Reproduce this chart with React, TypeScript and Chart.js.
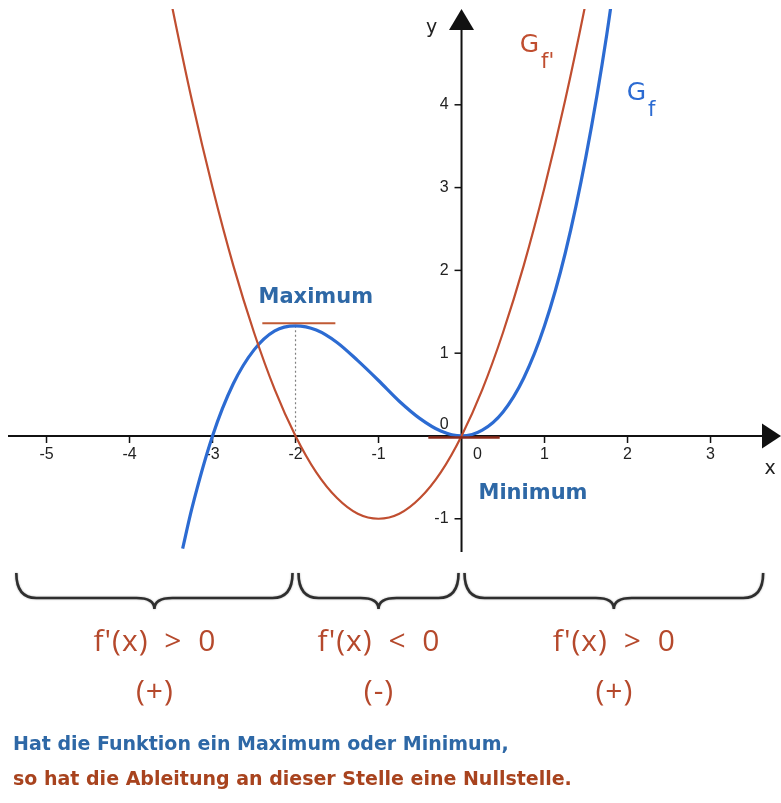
import { useEffect, useRef } from "react";
import { Chart, registerables } from "chart.js";

Chart.register(...registerables);

// Graph of f: sample points (x, f(x))
const fX = [-3.36, -3.25, -3, -2.75, -2.5, -2.25, -2, -1.75, -1.5, -1.25, -1, -0.75, -0.5, -0.25, 0, 0.25, 0.5, 0.75, 1, 1.25, 1.5, 1.75, 2];
const fY = [-1.36, -0.88, 0, 0.63, 1.04, 1.27, 1.33, 1.28, 1.13, 0.91, 0.67, 0.42, 0.21, 0.06, 0, 0.07, 0.29, 0.7, 1.33, 2.21, 3.38, 4.85, 6.67];

// Graph of f': sample points (x, f'(x))
const dX = [-3.6, -3.5, -3.25, -3, -2.75, -2.5, -2.25, -2, -1.75, -1.5, -1.25, -1, -0.75, -0.5, -0.25, 0, 0.25, 0.5, 0.75, 1, 1.25, 1.5, 1.75];
const dY = [5.76, 5.25, 4.06, 3, 2.06, 1.25, 0.56, 0, -0.44, -0.75, -0.94, -1, -0.94, -0.75, -0.44, 0, 0.56, 1.25, 2.06, 3, 4.06, 5.25, 6.56];

// Axis ticks
const xTicks = [-5, -4, -3, -2, -1, 0, 1, 2, 3];
const yTicks = [-1, 0, 1, 2, 3, 4];

// Extrema of f (zeros of f')
const extremaX = [-2, 0];
const extremaY = [1.33, 0];
const extremaNames = ["Maximum", "Minimum"];

// Curve names and where they sit (data coordinates of the "G")
const curveNames = ["f'", "f"];
const curveNameX = [0.7, 1.99];
const curveNameY = [4.64, 4.06];

// Sign intervals of f'
const intervalFrom = [-5.4, -2, 0];
const intervalTo = [-2, 0, 3.67];
const intervalSign = ["f'(x) > 0", "f'(x) < 0", "f'(x) > 0"];
const intervalSymbol = ["(+)", "(-)", "(+)"];

const captionLines = [
  "Hat die Funktion ein Maximum oder Minimum,",
  "so hat die Ableitung an dieser Stelle eine Nullstelle.",
];

const BLUE = "#2c6bd2";
const RED = "#c04e30";
const TEXT_BLUE = "#2e68a6";
const TEXT_RED = "#a8431e";
const AXIS = "#111111";

function arrowHead(ctx: CanvasRenderingContext2D, tipX: number, tipY: number, dx: number, dy: number, len: number, half: number) {
  const bx = tipX - dx * len;
  const by = tipY - dy * len;
  const px = -dy;
  const py = dx;
  ctx.beginPath();
  ctx.moveTo(tipX, tipY);
  ctx.lineTo(bx + px * half, by + py * half);
  ctx.lineTo(bx - px * half, by - py * half);
  ctx.closePath();
  ctx.fill();
}

const axesPlugin = {
  id: "centeredAxes",
  beforeDatasetsDraw(chart: any) {
    const { ctx, chartArea } = chart;
    const xs = chart.scales.x;
    const ys = chart.scales.y;
    const x0 = xs.getPixelForValue(0);
    const y0 = ys.getPixelForValue(0);
    ctx.save();
    ctx.strokeStyle = AXIS;
    ctx.fillStyle = AXIS;
    ctx.lineWidth = 2;

    // x axis with arrow
    ctx.beginPath();
    ctx.moveTo(chartArea.left, y0);
    ctx.lineTo(chartArea.right - 15, y0);
    ctx.stroke();
    arrowHead(ctx, chartArea.right, y0, 1, 0, 19, 12.5);

    // y axis with arrow
    const yBottom = ys.getPixelForValue(-1.4);
    ctx.beginPath();
    ctx.moveTo(x0, yBottom);
    ctx.lineTo(x0, chartArea.top + 18);
    ctx.stroke();
    arrowHead(ctx, x0, chartArea.top, 0, -1, 21, 12.5);

    // tick marks
    ctx.lineWidth = 1.5;
    xTicks.forEach((v) => {
      if (v === 0) return;
      const px = xs.getPixelForValue(v);
      ctx.beginPath();
      ctx.moveTo(px, y0);
      ctx.lineTo(px, y0 + 7);
      ctx.stroke();
    });
    yTicks.forEach((v) => {
      if (v === 0) return;
      const py = ys.getPixelForValue(v);
      ctx.beginPath();
      ctx.moveTo(x0 - 7, py);
      ctx.lineTo(x0, py);
      ctx.stroke();
    });

    // tick labels
    ctx.fillStyle = "#222";
    ctx.font = "16px 'Liberation Sans', Arial, sans-serif";
    ctx.textAlign = "center";
    ctx.textBaseline = "top";
    xTicks.forEach((v) => {
      const px = v === 0 ? x0 + 16 : xs.getPixelForValue(v);
      ctx.fillText(String(v), px, y0 + 11);
    });
    ctx.textAlign = "right";
    ctx.textBaseline = "middle";
    yTicks.forEach((v) => {
      const py = v === 0 ? y0 - 11 : ys.getPixelForValue(v);
      ctx.fillText(String(v), x0 - 13, py);
    });

    // axis names
    ctx.font = "19px 'DejaVu Sans', sans-serif";
    ctx.textAlign = "center";
    ctx.textBaseline = "alphabetic";
    ctx.fillText("x", chartArea.right - 11, y0 + 38);
    ctx.fillText("y", x0 - 30, chartArea.top + 24);

    // dotted drop line from the maximum to the x axis
    ctx.strokeStyle = "#808080";
    ctx.lineWidth = 1.2;
    ctx.setLineDash([2, 2.5]);
    ctx.beginPath();
    ctx.moveTo(xs.getPixelForValue(extremaX[0]), ys.getPixelForValue(extremaY[0]));
    ctx.lineTo(xs.getPixelForValue(extremaX[0]), y0);
    ctx.stroke();
    ctx.setLineDash([]);
    ctx.restore();
  },
  afterDatasetsDraw(chart: any) {
    const { ctx, chartArea } = chart;
    const xs = chart.scales.x;
    const ys = chart.scales.y;
    ctx.save();

    // horizontal tangents at the extrema
    const maxPx = xs.getPixelForValue(extremaX[0]);
    const maxPy = ys.getPixelForValue(extremaY[0]);
    ctx.strokeStyle = "#c05a34";
    ctx.lineWidth = 2;
    ctx.beginPath();
    ctx.moveTo(xs.getPixelForValue(extremaX[0] - 0.4), maxPy - 2.5);
    ctx.lineTo(xs.getPixelForValue(extremaX[0] + 0.48), maxPy - 2.5);
    ctx.stroke();

    const minPx = xs.getPixelForValue(extremaX[1]);
    const minPy = ys.getPixelForValue(extremaY[1]);
    ctx.strokeStyle = "#8a2a1a";
    ctx.lineWidth = 2.5;
    ctx.beginPath();
    ctx.moveTo(xs.getPixelForValue(extremaX[1] - 0.4), minPy + 1.5);
    ctx.lineTo(xs.getPixelForValue(extremaX[1] + 0.46), minPy + 1.5);
    ctx.stroke();

    // extremum names
    ctx.fillStyle = TEXT_BLUE;
    ctx.font = "bold 21px 'DejaVu Sans', Verdana, sans-serif";
    ctx.textAlign = "left";
    ctx.textBaseline = "alphabetic";
    ctx.fillText(extremaNames[0], maxPx - 37, maxPy - 23);
    ctx.fillText(extremaNames[1], minPx + 17, minPy + 63);

    // curve names G_f' and G_f
    const colors = [RED, BLUE];
    curveNames.forEach((sub, i) => {
      const gx = xs.getPixelForValue(curveNameX[i]);
      const gy = ys.getPixelForValue(curveNameY[i]);
      ctx.fillStyle = colors[i];
      ctx.font = "25px 'DejaVu Sans', Verdana, sans-serif";
      ctx.fillText("G", gx, gy);
      const w = ctx.measureText("G").width;
      ctx.font = "21px 'DejaVu Sans', Verdana, sans-serif";
      ctx.fillText(sub, gx + w + 2, gy + 16);
    });

    // braces under the sign intervals
    const yTop = chartArea.bottom + 13;
    const yMid = chartArea.bottom + 38;
    const yTip = chartArea.bottom + 49;
    ctx.strokeStyle = "#2e2e2e";
    ctx.lineWidth = 2.6;
    ctx.shadowColor = "rgba(0,0,0,0.35)";
    ctx.shadowBlur = 2;
    intervalFrom.forEach((a, i) => {
      const l = xs.getPixelForValue(a) + 3;
      const r = xs.getPixelForValue(intervalTo[i]) - 3;
      const m = (l + r) / 2;
      const rad = 20;
      ctx.beginPath();
      ctx.moveTo(l, yTop);
      ctx.quadraticCurveTo(l, yMid, l + rad, yMid);
      ctx.lineTo(m - 18, yMid);
      ctx.quadraticCurveTo(m, yMid, m, yTip);
      ctx.quadraticCurveTo(m, yMid, m + 18, yMid);
      ctx.lineTo(r - rad, yMid);
      ctx.quadraticCurveTo(r, yMid, r, yTop);
      ctx.stroke();
    });
    ctx.shadowBlur = 0;
    ctx.shadowColor = "transparent";

    // sign of f' in each interval
    ctx.fillStyle = "#b5492c";
    ctx.textAlign = "center";
    ctx.font = "30px 'Open Sans', sans-serif";
    (ctx as any).letterSpacing = "1px";
    (ctx as any).wordSpacing = "7px";
    intervalFrom.forEach((a, i) => {
      const m = (xs.getPixelForValue(a) + xs.getPixelForValue(intervalTo[i])) / 2 + 0.5;
      ctx.fillText(intervalSign[i], m, chartArea.bottom + 91);
      ctx.fillText(intervalSymbol[i], m, chartArea.bottom + 141);
    });
    (ctx as any).letterSpacing = "0px";
    (ctx as any).wordSpacing = "0px";

    // caption
    ctx.textAlign = "left";
    ctx.font = "bold 19px 'DejaVu Sans', Verdana, sans-serif";
    ctx.fillStyle = TEXT_BLUE;
    ctx.fillText(captionLines[0], 13, chartArea.bottom + 190);
    ctx.fillStyle = TEXT_RED;
    ctx.fillText(captionLines[1], 13, chartArea.bottom + 225);

    ctx.restore();
  },
};

export default function App() {
  const canvasRef = useRef<HTMLCanvasElement | null>(null);

  useEffect(() => {
    const canvas = canvasRef.current;
    if (!canvas) return;
    const chart = new Chart(canvas, {
      type: "line",
      data: {
        datasets: [
          {
            label: "f'",
            data: dX.map((x, i) => ({ x, y: dY[i] })),
            borderColor: RED,
            borderWidth: 2.2,
            pointRadius: 0,
            cubicInterpolationMode: "monotone",
            fill: false,
          },
          {
            label: "f",
            data: fX.map((x, i) => ({ x, y: fY[i] })),
            borderColor: BLUE,
            borderWidth: 3.2,
            pointRadius: 0,
            cubicInterpolationMode: "monotone",
            fill: false,
          },
        ],
      },
      options: {
        animation: false,
        responsive: false,
        devicePixelRatio: 1,
        layout: { padding: { left: 8, right: 0, top: 9, bottom: 243 } },
        scales: {
          x: { type: "linear", min: -5.464, max: 3.849, display: false },
          y: { type: "linear", min: -1.498, max: 5.157, display: false },
        },
        plugins: {
          legend: { display: false },
          tooltip: { enabled: false },
        },
        events: [],
      },
      plugins: [axesPlugin],
    });
    return () => chart.destroy();
  }, []);

  return (
    <div style={{ position: "absolute", left: 0, top: 0, width: 781, height: 803, background: "#ffffff" }}>
      <canvas ref={canvasRef} width={781} height={803} style={{ display: "block" }} />
    </div>
  );
}
